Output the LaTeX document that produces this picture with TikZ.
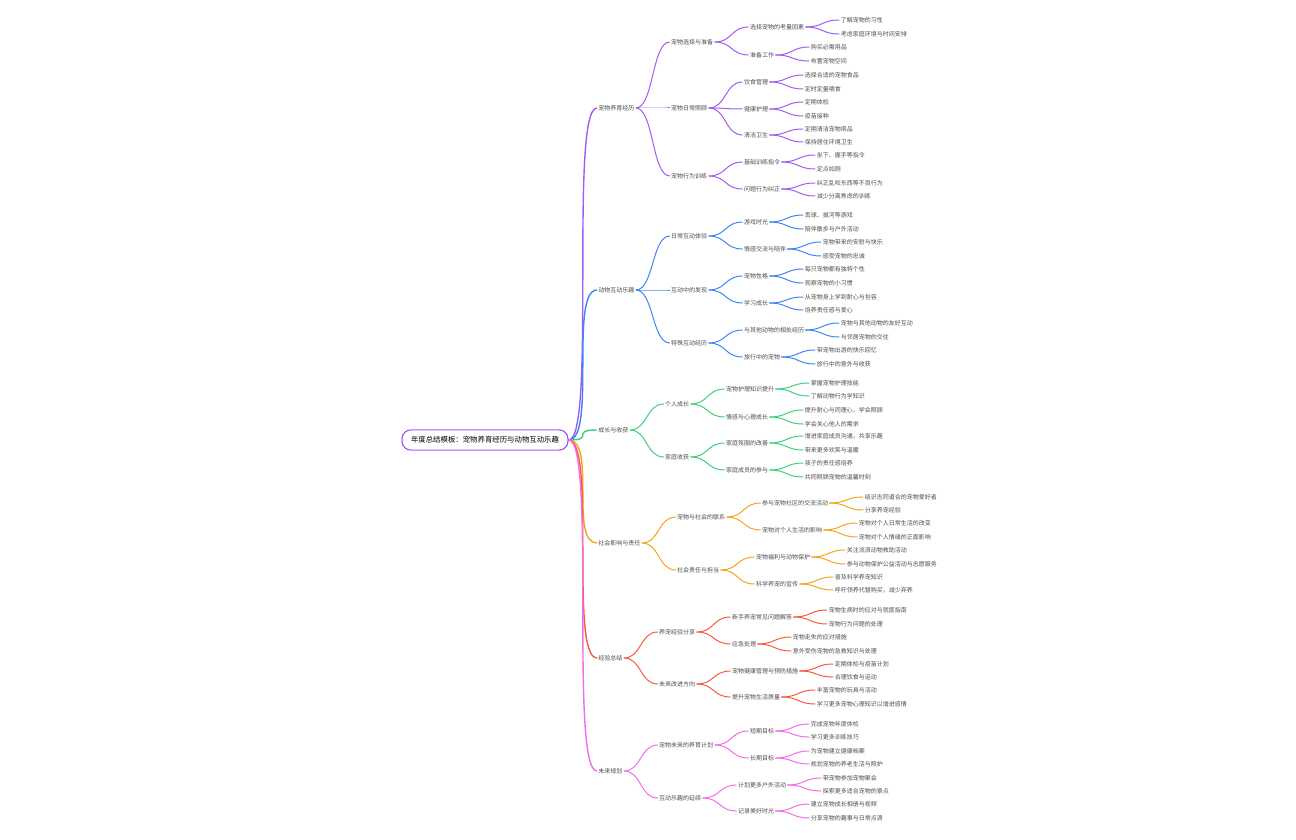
\documentclass[tikz,border=0pt]{standalone}
\usepackage{fontspec}
\setmainfont{Noto Sans CJK SC}
\usetikzlibrary{calc}
\definecolor{cPur}{HTML}{A35BF2}
\definecolor{cBlu}{HTML}{3F84F4}
\definecolor{cGrn}{HTML}{3DD07C}
\definecolor{cOrg}{HTML}{F5A21C}
\definecolor{cRed}{HTML}{F65A3C}
\definecolor{cMag}{HTML}{F26CE8}
\tikzset{
  mm/.style={inner sep=0.5pt,font=\fontsize{3pt}{4pt}\selectfont,text=black!70},
  link/.style={line width=0.5pt}
}
% child node placed right of its parent, plus the curved link
\newcommand\mmkid[5]{%
\path let \p1=(#2.east) in node[mm,anchor=west] (#1) at (\x1+17pt,{-0.5pt*#3}) {#4};
\draw[link,#5] (#2.east) .. controls +(9pt,0) and +(-9pt,0) .. (#1.west);}
\begin{document}
\begin{tikzpicture}[x=0.5pt,y=-0.5pt]
\useasboundingbox (0,0) rectangle (1296,840);
\node[draw=cPur,line width=0.6pt,rounded corners=4.5pt,minimum height=10pt,inner xsep=4.5pt,
  font=\fontsize{3.7pt}{4.5pt}\selectfont] (root) at (485,440) {年度总结模板：宠物养育经历与动物互动乐趣};
% level one
\node[mm,anchor=west] (a) at (597,108) {宠物养育经历};
\node[mm,anchor=west] (b) at (597,290) {动物互动乐趣};
\node[mm,anchor=west] (c) at (597,430) {成长与收获};
\node[mm,anchor=west] (d) at (597,543) {社会影响与责任};
\node[mm,anchor=west] (e) at (597,658) {经验总结};
\node[mm,anchor=west] (f) at (597,771) {未来规划};
\foreach \n/\c in {a/cPur,b/cBlu,c/cGrn,d/cOrg,e/cRed,f/cMag}
  \draw[link,line width=0.7pt,\c] (root.east) .. controls +(14pt,0) and +(-14pt,0) .. (\n.west);
% 宠物养育经历
\mmkid{a1}{a}{42}{宠物选择与准备}{cPur}
\mmkid{a2}{a}{108}{宠物日常照顾}{cPur}
\mmkid{a3}{a}{176}{宠物行为训练}{cPur}
\mmkid{a11}{a1}{27}{选择宠物的考量因素}{cPur}
\mmkid{a12}{a1}{55}{准备工作}{cPur}
\mmkid{a111}{a11}{20}{了解宠物的习性}{cPur}
\mmkid{a112}{a11}{34}{考虑家庭环境与时间安排}{cPur}
\mmkid{a121}{a12}{47}{购买必需用品}{cPur}
\mmkid{a122}{a12}{61}{布置宠物空间}{cPur}
\mmkid{a21}{a2}{82}{饮食管理}{cPur}
\mmkid{a22}{a2}{109}{健康护理}{cPur}
\mmkid{a23}{a2}{135}{清洁卫生}{cPur}
\mmkid{a211}{a21}{75}{选择合适的宠物食品}{cPur}
\mmkid{a212}{a21}{89}{定时定量喂食}{cPur}
\mmkid{a221}{a22}{102}{定期体检}{cPur}
\mmkid{a222}{a22}{116}{疫苗接种}{cPur}
\mmkid{a231}{a23}{129}{定期清洁宠物用品}{cPur}
\mmkid{a232}{a23}{142}{保持居住环境卫生}{cPur}
\mmkid{a31}{a3}{162}{基础训练指令}{cPur}
\mmkid{a32}{a3}{189}{问题行为纠正}{cPur}
\mmkid{a311}{a31}{155}{坐下、握手等指令}{cPur}
\mmkid{a312}{a31}{169}{定点如厕}{cPur}
\mmkid{a321}{a32}{183}{纠正乱咬东西等不良行为}{cPur}
\mmkid{a322}{a32}{196}{减少分离焦虑的训练}{cPur}
% 动物互动乐趣
\mmkid{b1}{b}{236}{日常互动体验}{cBlu}
\mmkid{b2}{b}{290}{互动中的发现}{cBlu}
\mmkid{b3}{b}{343}{特殊互动经历}{cBlu}
\mmkid{b11}{b1}{222}{游戏时光}{cBlu}
\mmkid{b12}{b1}{249}{情感交流与陪伴}{cBlu}
\mmkid{b111}{b11}{215}{丢球、拔河等游戏}{cBlu}
\mmkid{b112}{b11}{229}{陪伴散步与户外活动}{cBlu}
\mmkid{b121}{b12}{242}{宠物带来的安慰与快乐}{cBlu}
\mmkid{b122}{b12}{256}{感受宠物的忠诚}{cBlu}
\mmkid{b21}{b2}{276}{宠物性格}{cBlu}
\mmkid{b22}{b2}{303}{学习成长}{cBlu}
\mmkid{b211}{b21}{269}{每只宠物都有独特个性}{cBlu}
\mmkid{b212}{b21}{283}{观察宠物的小习惯}{cBlu}
\mmkid{b221}{b22}{297}{从宠物身上学到耐心与包容}{cBlu}
\mmkid{b222}{b22}{310}{培养责任感与爱心}{cBlu}
\mmkid{b31}{b3}{330}{与其他动物的相处经历}{cBlu}
\mmkid{b32}{b3}{357}{旅行中的宠物}{cBlu}
\mmkid{b311}{b31}{323}{宠物与其他动物的友好互动}{cBlu}
\mmkid{b312}{b31}{337}{与邻居宠物的交往}{cBlu}
\mmkid{b321}{b32}{350}{带宠物出游的快乐回忆}{cBlu}
\mmkid{b322}{b32}{364}{旅行中的意外与收获}{cBlu}
% 成长与收获
\mmkid{c1}{c}{404}{个人成长}{cGrn}
\mmkid{c2}{c}{457}{家庭收获}{cGrn}
\mmkid{c11}{c1}{389}{宠物护理知识提升}{cGrn}
\mmkid{c12}{c1}{417}{情感与心理成长}{cGrn}
\mmkid{c111}{c11}{383}{掌握宠物护理技能}{cGrn}
\mmkid{c112}{c11}{396}{了解动物行为学知识}{cGrn}
\mmkid{c121}{c12}{410}{提升耐心与同理心，学会照顾}{cGrn}
\mmkid{c122}{c12}{424}{学会关心他人的需求}{cGrn}
\mmkid{c21}{c2}{443}{家庭氛围的改善}{cGrn}
\mmkid{c22}{c2}{470}{家庭成员的参与}{cGrn}
\mmkid{c211}{c21}{436}{增进家庭成员沟通，共享乐趣}{cGrn}
\mmkid{c212}{c21}{450}{带来更多欢笑与温暖}{cGrn}
\mmkid{c221}{c22}{463}{孩子的责任感培养}{cGrn}
\mmkid{c222}{c22}{477}{共同照顾宠物的温馨时刻}{cGrn}
% 社会影响与责任
\mmkid{d1}{d}{517}{宠物与社会的联系}{cOrg}
\mmkid{d2}{d}{570}{社会责任与担当}{cOrg}
\mmkid{d11}{d1}{503}{参与宠物社区的交流活动}{cOrg}
\mmkid{d12}{d1}{530}{宠物对个人生活的影响}{cOrg}
\mmkid{d111}{d11}{497}{结识志同道合的宠物爱好者}{cOrg}
\mmkid{d112}{d11}{510}{分享养宠经验}{cOrg}
\mmkid{d121}{d12}{523}{宠物对个人日常生活的改变}{cOrg}
\mmkid{d122}{d12}{537}{宠物对个人情绪的正面影响}{cOrg}
\mmkid{d21}{d2}{557}{宠物福利与动物保护}{cOrg}
\mmkid{d22}{d2}{584}{科学养宠的宣传}{cOrg}
\mmkid{d211}{d21}{550}{关注流浪动物救助活动}{cOrg}
\mmkid{d212}{d21}{564}{参与动物保护公益活动与志愿服务}{cOrg}
\mmkid{d221}{d22}{577}{普及科学养宠知识}{cOrg}
\mmkid{d222}{d22}{590}{呼吁领养代替购买，减少弃养}{cOrg}
% 经验总结
\mmkid{e1}{e}{632}{养宠经验分享}{cRed}
\mmkid{e2}{e}{684}{未来改进方向}{cRed}
\mmkid{e11}{e1}{617}{新手养宠常见问题解答}{cRed}
\mmkid{e12}{e1}{644}{应急处理}{cRed}
\mmkid{e111}{e11}{610}{宠物生病时的应对与就医指南}{cRed}
\mmkid{e112}{e11}{624}{宠物行为问题的处理}{cRed}
\mmkid{e121}{e12}{637}{宠物走失的应对措施}{cRed}
\mmkid{e122}{e12}{651}{意外受伤宠物的急救知识与处理}{cRed}
\mmkid{e21}{e2}{671}{宠物健康管理与预防措施}{cRed}
\mmkid{e22}{e2}{697}{提升宠物生活质量}{cRed}
\mmkid{e211}{e21}{664}{定期体检与疫苗计划}{cRed}
\mmkid{e212}{e21}{677}{合理饮食与运动}{cRed}
\mmkid{e221}{e22}{690}{丰富宠物的玩具与活动}{cRed}
\mmkid{e222}{e22}{704}{学习更多宠物心理知识以增进感情}{cRed}
% 未来规划
\mmkid{f1}{f}{745}{宠物未来的养育计划}{cMag}
\mmkid{f2}{f}{798}{互动乐趣的延续}{cMag}
\mmkid{f11}{f1}{731}{短期目标}{cMag}
\mmkid{f12}{f1}{758}{长期目标}{cMag}
\mmkid{f111}{f11}{724}{完成宠物年度体检}{cMag}
\mmkid{f112}{f11}{737}{学习更多训练技巧}{cMag}
\mmkid{f121}{f12}{751}{为宠物建立健康档案}{cMag}
\mmkid{f122}{f12}{764}{规划宠物的养老生活与照护}{cMag}
\mmkid{f21}{f2}{785}{计划更多户外活动}{cMag}
\mmkid{f22}{f2}{811}{记录美好时光}{cMag}
\mmkid{f211}{f21}{778}{带宠物参加宠物聚会}{cMag}
\mmkid{f212}{f21}{791}{探索更多适合宠物的景点}{cMag}
\mmkid{f221}{f22}{804}{建立宠物成长相册与视频}{cMag}
\mmkid{f222}{f22}{818}{分享宠物的趣事与日常点滴}{cMag}
\end{tikzpicture}
\end{document}
